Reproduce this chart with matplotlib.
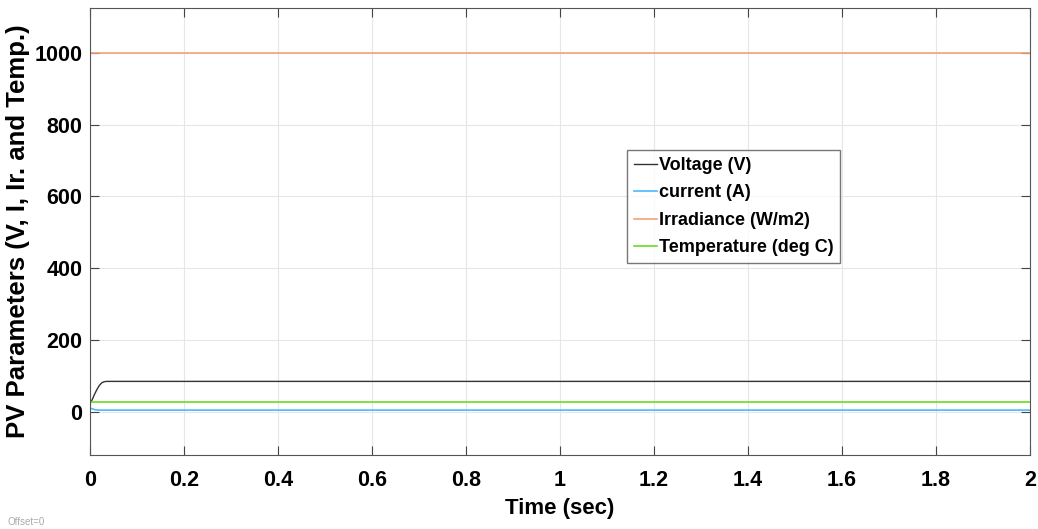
import matplotlib.pyplot as plt
import numpy as np

plt.rcParams['font.family'] = ['Liberation Sans', 'DejaVu Sans']

t_v = [0, 0.005, 0.01, 0.015, 0.02, 0.025, 0.03, 0.035, 0.04, 2.0]
volt = [22, 35, 50, 63, 74, 81, 84, 85, 85, 85]
t_i = [0, 0.005, 0.01, 0.02, 2.0]
curr = [9, 9, 6, 5, 5]
t_g = [0, 2.0]
irr = [1000, 1000]
temp = [28, 28]

fig = plt.figure(figsize=(10.38, 5.29), dpi=100)
ax = fig.add_axes([0.0867, 0.1399, 0.9056, 0.845])

ax.plot(t_v, volt, color='#333333', lw=1.0, label='Voltage (V)')
ax.plot(t_i, curr, color='#4db8ff', lw=1.2, label='current (A)')
ax.plot(t_g, irr, color='#f4a07c', lw=1.2, label='Irradiance (W/m2)')
ax.plot(t_g, temp, color='#66dd22', lw=1.2, label='Temperature (deg C)')

ax.set_xlim(0, 2)
ax.set_ylim(-120, 1125)
ax.set_xticks(np.arange(0, 2.01, 0.2))
ax.set_xticklabels(['0', '0.2', '0.4', '0.6', '0.8', '1', '1.2', '1.4', '1.6', '1.8', '2'])
ax.set_yticks([0, 200, 400, 600, 800, 1000])
ax.grid(True, color='#e6e6e6', lw=0.8)
ax.tick_params(direction='in', top=True, right=True, labelsize=15.5, length=6.5, color='#444444')
ax.tick_params(axis='x', pad=11)
ax.tick_params(axis='y', pad=5.5)
for lab in ax.get_xticklabels() + ax.get_yticklabels():
    lab.set_fontweight('bold')
for s in ax.spines.values():
    s.set_color('#555555')

ax.set_xlabel('Time (sec)', fontsize=16, fontweight='bold', labelpad=5)
ax.set_ylabel('PV Parameters (V, I, Ir. and Temp.)', fontsize=18.5, fontweight='bold', labelpad=3)

leg = ax.legend(loc='upper left', bbox_to_anchor=(0.571, 0.682), prop={'weight': 'bold', 'size': 13},
                frameon=True, fancybox=False, handlelength=1.3, handletextpad=0.1,
                borderpad=0.38, labelspacing=0.58, borderaxespad=0)
leg.get_frame().set_edgecolor('#555555')
leg.get_frame().set_linewidth(1.0)

fig.text(0.007, 0.008, 'Offset=0', fontsize=7, color='#aaaaaa')

fig.savefig('out.png', dpi=100)
